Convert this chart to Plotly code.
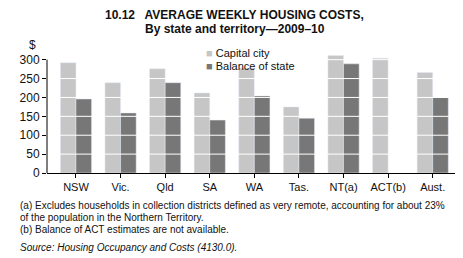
import plotly.graph_objects as go

states = ['NSW', 'Vic.', 'Qld', 'SA', 'WA', 'Tas.', 'NT(a)', 'ACT(b)', 'Aust.']
capital_city = [292, 239, 276, 212, 278, 175, 311, 304, 266]
balance_of_state = [196, 159, 239, 140, 204, 145, 289, None, 200]
y_ticks = [0, 50, 100, 150, 200, 250, 300]

LIGHT = '#c6c6c6'
DARK = '#777777'
FONT = 'Liberation Sans'
W, H = 463, 258
OFF = 8  # page body margin in the browser
# plot area in window pixels: x 36..455, y 54..173
L, R, T, B = 36 - OFF, W - (455 - OFF), 54 - OFF, H - (173 - OFF)


def at(x, y):
    # window pixel position -> paper coords
    x, y = x - OFF, y - OFF
    return (x - L) / (W - L - R), (H - B - y) / (H - T - B)


fig = go.Figure()
fig.add_bar(x=states, y=capital_city, name='Capital city', marker_color=LIGHT)
fig.add_bar(x=states, y=balance_of_state, name='Balance of state', marker_color=DARK)

# white gridlines drawn over the bars
for v in y_ticks[1:]:
    fig.add_shape(type='line', xref='paper', x0=0, x1=1, y0=v, y1=v,
                  line=dict(color='white', width=1), layer='above')
# y axis line only up to 300
fig.add_shape(type='line', xref='paper', x0=0, x1=0, y0=0, y1=300,
              line=dict(color='black', width=1), layer='above')


def note(text, x, y, size=10, anchor='left'):
    px, py = at(x, y)
    fig.add_annotation(text=text, x=px, y=py, xref='paper', yref='paper',
                       xanchor=anchor, yanchor='middle', showarrow=False,
                       align='left', font=dict(size=size), borderpad=0)


note('<b>10.12   AVERAGE WEEKLY HOUSING COSTS,</b>', 229, 14.5, 12, 'center')
note('<b>By state and territory\u20142009\u201310</b>', 229, 28.5, 12, 'center')
note('$', 21, 45, 12, 'center')
note(f'<span style="color:{LIGHT}">\u25a0</span> Capital city', 198, 53, 11)
note(f'<span style="color:{DARK}">\u25a0</span> Balance of state', 198, 66, 11)
note('(a) Excludes households in collection districts defined as very remote, accounting for about 23%', 7, 205)
note('of the population in the Northern Territory.', 7, 217)
note('(b) Balance of ACT estimates are not available.', 7, 229)
note('<i>Source: Housing Occupancy and Costs (4130.0).</i>', 7, 247)

fig.update_layout(
    width=W, height=H,
    margin=dict(l=L, r=R, t=T, b=B),
    plot_bgcolor='white', paper_bgcolor='white',
    barmode='group', bargap=0.3, bargroupgap=0,
    font=dict(family=FONT, size=11, color='#111'),
    showlegend=False,
)

fig.update_xaxes(range=[-0.65, 8.5], showline=True, linecolor='black', linewidth=1,
                 ticks='outside', ticklen=4, tickcolor='black', showgrid=False,
                 tickfont=dict(size=11))
fig.update_yaxes(range=[0, 315], tickvals=y_ticks, showline=False, ticks='outside',
                 ticklen=4, tickcolor='black', showgrid=False, zeroline=False,
                 tickfont=dict(size=12))

fig.write_html("out.html")
